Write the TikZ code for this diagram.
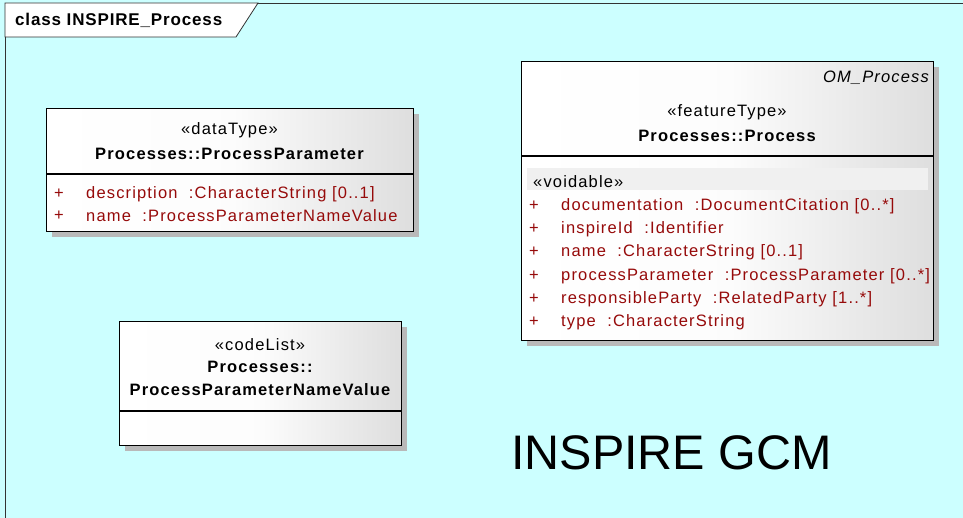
\documentclass[tikz,border=0pt]{standalone}
\usepackage{fontspec}
\setmainfont{Liberation Sans}
\newfontfamily\spfont[LetterSpace=7]{Liberation Sans}
\newfontfamily\titlefont[LetterSpace=5]{Liberation Sans}
\usetikzlibrary{shadows}
\definecolor{bgcyan}{RGB}{204,255,255}
\definecolor{attred}{RGB}{150,10,10}
\definecolor{boxgray}{RGB}{222,222,222}
\definecolor{shadowgray}{RGB}{185,185,185}
\definecolor{voidgray}{RGB}{240,240,240}
\tikzset{
  umlbox/.style={draw=black, line width=1.1pt, anchor=north west, inner sep=0pt,
    left color=white, right color=boxgray, middle color=white!92!boxgray,
    drop shadow={shadow xshift=5pt, shadow yshift=-5pt, fill=shadowgray, opacity=1}},
  txt/.style={inner sep=0pt, font=\spfont\fontsize{16.5}{19}\selectfont},
  btxt/.style={txt, font=\spfont\fontsize{16.5}{19}\selectfont\bfseries},
  att/.style={txt, anchor=west, text=attred},
  divider/.style={line width=1.1pt},
}
\begin{document}
\begin{tikzpicture}[x=1pt,y=-1pt]
\useasboundingbox (0,0) rectangle (963,518);
\fill[bgcyan] (0,0) rectangle (963,518);
% frame
\coordinate (ftl) at (5,3);
\coordinate (ftr) at (963,3);
\coordinate (fbl) at (5,518);
\draw[line width=0.8pt, black!80] (fbl) -- (ftl) -- (ftr);
\filldraw[fill=white, draw=black!80, line width=0.8pt] (5,3) -- (258,3) -- (236,37) -- (5,37) -- cycle;
\node[inner sep=0pt, anchor=west, font=\titlefont\fontsize{17}{20}\selectfont\bfseries] (title) at (15,20) {class INSPIRE\_Process};

% ProcessParameter
\node[umlbox, minimum width=367pt, minimum height=123pt] (pp) at (46,108) {};
\draw[divider] (46,174) -- (413,174);
\node[txt] (ppst) at (229.5,130) {«dataType»};
\node[btxt] (ppname) at (229.5,154) {Processes::ProcessParameter};
\node[att] (pp1p) at (54,194) {+};
\node[att] (pp1) at (86,194) {description \ :CharacterString [0..1]};
\node[att] (pp2p) at (54,216) {+};
\node[att] (pp2) at (86,216) {name \ :ProcessParameterNameValue};

% codeList
\node[umlbox, minimum width=282pt, minimum height=124pt] (cl) at (119,321) {};
\draw[divider] (119,411) -- (401,411);
\node[txt] (clst) at (260,345) {«codeList»};
\node[btxt] (clname1) at (260,367) {Processes::};
\node[btxt] (clname2) at (260,390) {ProcessParameterNameValue};

% Process
\node[umlbox, minimum width=412pt, minimum height=279pt] (pr) at (521,61) {};
\draw[divider] (521,156) -- (933,156);
\node[txt, anchor=east, font=\spfont\fontsize{16.5}{19}\selectfont\itshape] (prom) at (929,78) {OM\_Process};
\node[txt] (prst) at (727,112) {«featureType»};
\node[btxt] (prname) at (727,136) {Processes::Process};
\fill[voidgray] (527,168) rectangle (928,190);
\node[txt, anchor=west] (void) at (533,182) {«voidable»};
\node[att] (a1p) at (529,206) {+};
\node[att] (a1) at (561,206) {documentation \ :DocumentCitation [0..*]};
\node[att] (a2p) at (529,229) {+};
\node[att] (a2) at (561,229) {inspireId \ :Identifier};
\node[att] (a3p) at (529,252) {+};
\node[att] (a3) at (561,252) {name \ :CharacterString [0..1]};
\node[att] (a4p) at (529,276) {+};
\node[att] (a4) at (561,276) {processParameter \ :ProcessParameter [0..*]};
\node[att] (a5p) at (529,299) {+};
\node[att] (a5) at (561,299) {responsibleParty \ :RelatedParty [1..*]};
\node[att] (a6p) at (529,322) {+};
\node[att] (a6) at (561,322) {type \ :CharacterString};

% big label
\node[inner sep=0pt, anchor=west, font=\fontsize{48.5}{58}\selectfont] (gcm) at (511,453) {INSPIRE GCM};
\end{tikzpicture}
\end{document}
